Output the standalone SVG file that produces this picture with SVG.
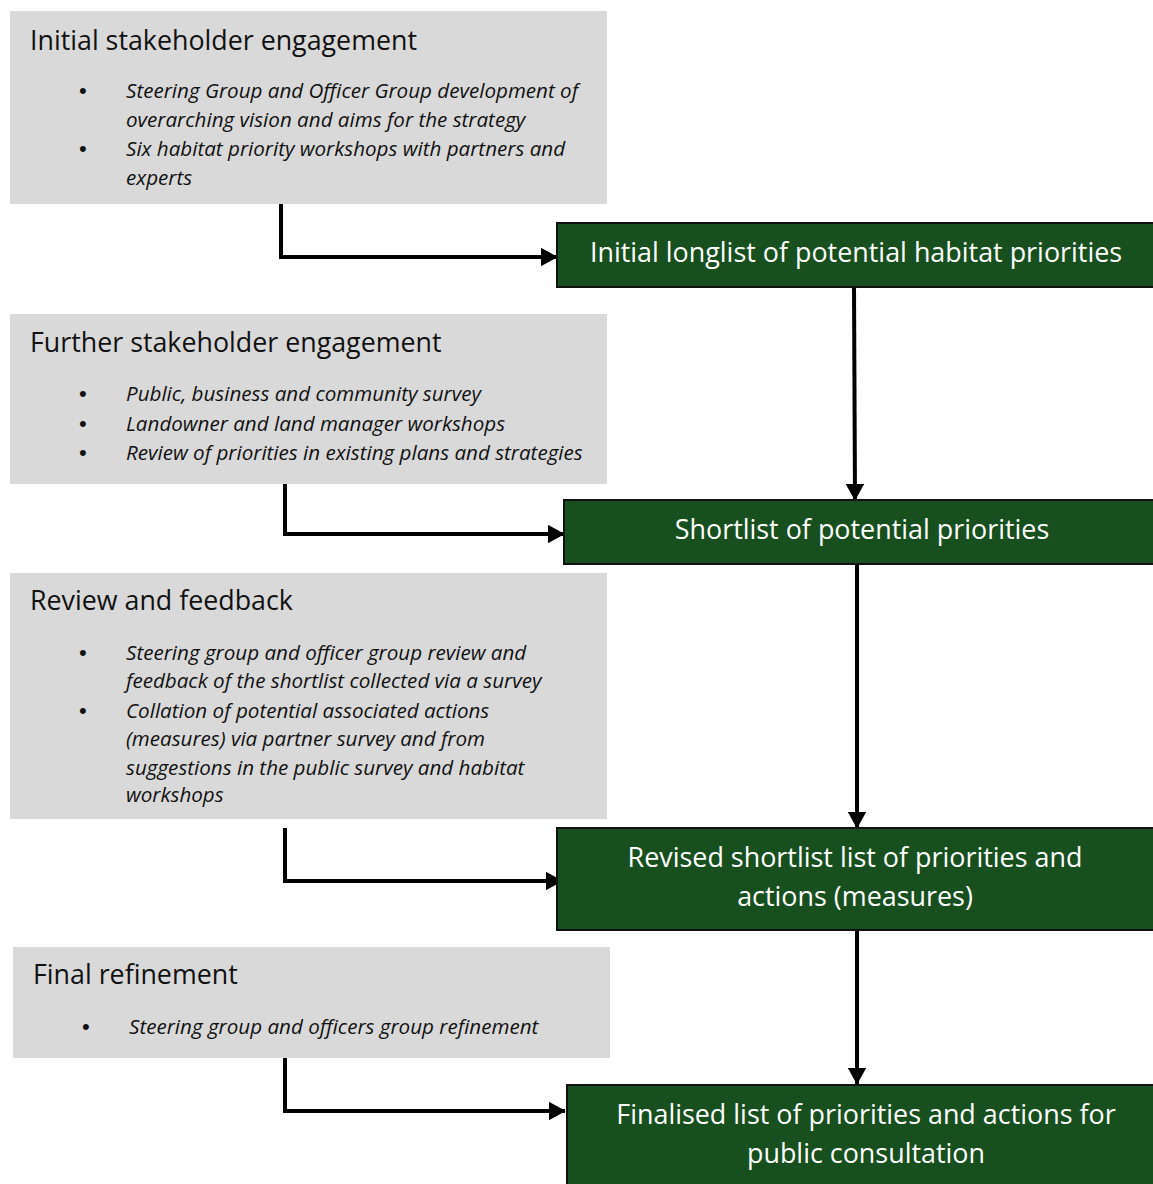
<svg xmlns="http://www.w3.org/2000/svg" width="1153" height="1184" viewBox="0 0 1153 1184">
<style>
.grey{fill:#d9d9d9}
.green{fill:#17501e;stroke:#111;stroke-width:2}
.title{font-family:"Open Sans","Liberation Sans",sans-serif;font-size:26.8px;fill:#111}
.bul{font-family:"Open Sans","Liberation Sans",sans-serif;font-size:20.6px;font-style:italic;fill:#111}
.dot{font-family:"Liberation Sans",sans-serif;font-size:22px;fill:#111}
.gt{font-family:"Open Sans","Liberation Sans",sans-serif;font-size:26.9px;fill:#fff;text-anchor:middle}
.conn{fill:none;stroke:#000;stroke-width:4;marker-end:url(#ah)}
</style>
<defs>
<marker id="ah" markerWidth="4.4" markerHeight="4.6" refX="4" refY="2.3" orient="auto" markerUnits="strokeWidth">
<path d="M0,0 L4.2,2.3 L0,4.6 Z" fill="#000"/>
</marker>
</defs>
<rect width="1153" height="1184" fill="#fff"/>
<g id="connectors">
<path class="conn" d="M281,204 V257 H557"/>
<path class="conn" d="M285,481 V534 H564"/>
<path class="conn" d="M285,828 V881 H562"/>
<path class="conn" d="M285,1058 V1111 H565"/>
<path class="conn" d="M854,287 L855,500"/>
<path class="conn" d="M857,564 V828"/>
<path class="conn" d="M857,930 V1084"/>
</g>
<g id="stage1">
<rect class="grey" x="10" y="11" width="597" height="193"/>
<text class="title" x="30" y="50">Initial stakeholder engagement</text>
<text class="dot" x="79" y="98">•</text><text class="bul" x="126" y="98">Steering Group and Officer Group development of</text>
<text class="bul" x="126" y="127">overarching vision and aims for the strategy</text>
<text class="dot" x="79" y="156">•</text><text class="bul" x="126" y="156">Six habitat priority workshops with partners and</text>
<text class="bul" x="126" y="185">experts</text>
</g>
<g id="stage2">
<rect class="grey" x="10" y="314" width="597" height="170"/>
<text class="title" x="30" y="352">Further stakeholder engagement</text>
<text class="dot" x="79" y="401">•</text><text class="bul" x="126" y="401">Public, business and community survey</text>
<text class="dot" x="79" y="431">•</text><text class="bul" x="126" y="431">Landowner and land manager workshops</text>
<text class="dot" x="79" y="460">•</text><text class="bul" x="126" y="460">Review of priorities in existing plans and strategies</text>
</g>
<g id="stage3">
<rect class="grey" x="10" y="573" width="597" height="246"/>
<text class="title" x="30" y="610">Review and feedback</text>
<text class="dot" x="79" y="660">•</text><text class="bul" x="126" y="660">Steering group and officer group review and</text>
<text class="bul" x="126" y="688">feedback of the shortlist collected via a survey</text>
<text class="dot" x="79" y="718">•</text><text class="bul" x="126" y="718">Collation of potential associated actions</text>
<text class="bul" x="126" y="746">(measures) via partner survey and from</text>
<text class="bul" x="126" y="775">suggestions in the public survey and habitat</text>
<text class="bul" x="126" y="802">workshops</text>
</g>
<g id="stage4">
<rect class="grey" x="13" y="947" width="597" height="111"/>
<text class="title" x="33" y="984">Final refinement</text>
<text class="dot" x="82" y="1034">•</text><text class="bul" x="129" y="1034">Steering group and officers group refinement</text>
</g>
<g id="out1">
<rect class="green" x="557" y="223" width="598" height="64"/>
<text class="gt" x="856" y="262">Initial longlist of potential habitat priorities</text>
</g>
<g id="out2">
<rect class="green" x="564" y="500" width="591" height="64"/>
<text class="gt" x="862" y="539">Shortlist of potential priorities</text>
</g>
<g id="out3">
<rect class="green" x="557" y="828" width="598" height="102"/>
<text class="gt" x="855" y="867">Revised shortlist list of priorities and</text>
<text class="gt" x="855" y="906">actions (measures)</text>
</g>
<g id="out4">
<rect class="green" x="567" y="1085" width="588" height="102"/>
<text class="gt" x="866" y="1124">Finalised list of priorities and actions for</text>
<text class="gt" x="866" y="1163">public consultation</text>
</g>
</svg>
